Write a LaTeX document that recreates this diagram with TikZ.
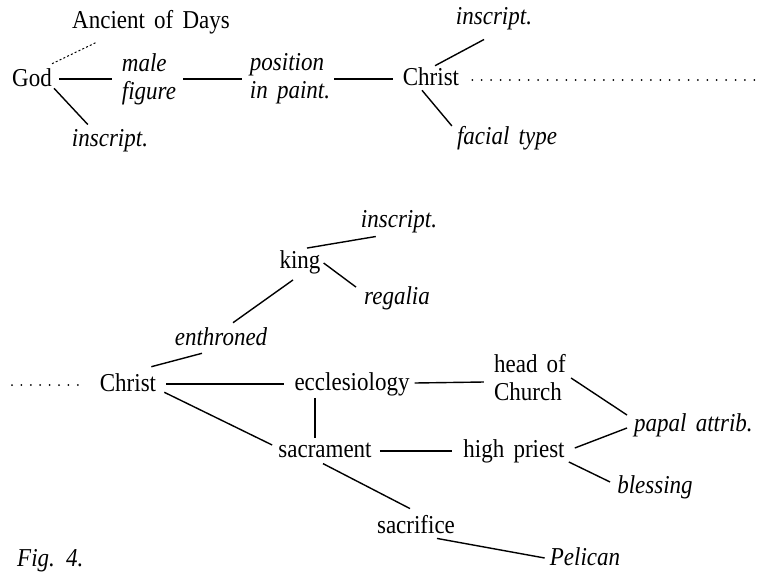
\documentclass[tikz,border=0pt]{standalone}
\usepackage{fontspec}
\setmainfont[WordSpace=1.6]{Liberation Serif}
\usetikzlibrary{calc}
\begin{document}
\begin{tikzpicture}[x=1pt,y=-1pt,
  lbl/.style={inner sep=0pt, font=\fontsize{23}{25}\selectfont, yscale=1.12},
  ilbl/.style={lbl, font=\fontsize{23}{25}\selectfont\itshape},
  two/.style={align=left},
  edge/.style={line width=1.4pt},
  fine/.style={line width=1pt, dash pattern=on 2pt off 2.2pt},
  dotrow/.style={line width=2pt, line cap=round, dash pattern=on 0pt off 9.4pt}]
\useasboundingbox (0,0) rectangle (761,574);
% ---- upper diagram
\node[lbl]  (anc)   at (151,22)  {Ancient of Days};
\node[lbl]  (god)   at (32,78)   {God};
\node[ilbl,two] (male) at (149,79) {male\\figure};
\node[ilbl,two] (pos)  at (290,79) {position\\in paint.};
\node[lbl]  (chrA)  at (431,77)  {Christ};
\node[ilbl] (inscA) at (110,141) {inscript.};
\node[ilbl] (inscB) at (494,19)  {inscript.};
\node[ilbl] (fac)   at (507,138) {facial type};
\coordinate (dotR) at (761,80);

\draw[fine] ($(god.north east)+(0,-5)$) -- ($(anc.south west)+(25,8)$);
\draw[edge] ($(god.east)+(7,1)$) -- ($(male.west)+(-10,0)$);
\draw[edge] ($(god.south east)+(2,1)$) -- ($(inscA.north west)+(16,-5)$);
\draw[edge] ($(male.east)+(7,0)$) -- ($(pos.west)+(-8,0)$);
\draw[edge] ($(pos.east)+(4,0)$) -- ($(chrA.west)+(-10,2)$);
\draw[edge] ($(chrA.north)+(4,-2)$) -- ($(inscB.south)+(-10,9)$);
\draw[edge] ($(chrA.south)+(-9,4)$) -- ($(fac.north west)+(-5,0)$);
\draw[dotrow] ($(chrA.east)+(13,3)$) -- (dotR);

% ---- lower diagram
\node[lbl]  (king)  at (300,262) {king};
\node[ilbl] (inscC) at (399,222) {inscript.};
\node[ilbl] (reg)   at (397,298) {regalia};
\node[ilbl] (enth)  at (221,337) {enthroned};
\node[lbl]  (chrB)  at (128,383) {Christ};
\node[lbl]  (eccl)  at (352,384) {ecclesiology};
\node[lbl,two] (head) at (530,378) {head of\\Church};
\node[ilbl,anchor=west] (papal) at (634,425) {papal attrib.};
\node[lbl]  (sacr)  at (325,450) {sacrament};
\node[lbl]  (hp)    at (514,451) {high priest};
\node[ilbl] (bless) at (655,487) {blessing};
\node[lbl]  (sacf)  at (416,525) {sacrifice};
\node[ilbl] (pel)   at (585,557) {Pelican};
\node[ilbl,anchor=north west] (fig) at (17,549) {Fig. 4.};
\coordinate (dotL) at (12,385);

\draw[dotrow] (dotL) -- ($(chrB.west)+(-21,2)$);
\draw[edge] ($(king.north)+(7,-2)$) -- ($(inscC.south west)+(15,3)$);
\draw[edge] ($(king.east)+(3,1)$) -- ($(reg.north west)+(-8,1)$);
\draw[edge] ($(king.south)+(-7,6)$) -- ($(enth.north)+(12,-5)$);
\draw[edge] ($(enth.south)+(-19,7)$) -- ($(chrB.north east)+(-5,-7)$);
\draw[edge] ($(chrB.east)+(10,1)$) -- ($(eccl.west)+(-10,0)$);
\draw[edge] ($(chrB.south east)+(8,0)$) -- ($(sacr.west)+(-6,-5)$);
\draw[edge] ($(eccl.south)+(-37,2)$) -- ($(sacr.north)+(-10,-4)$);
\draw[edge] ($(eccl.east)+(5,-1)$) -- ($(head.west)+(-10,4)$);
\draw[edge] ($(head.east)+(5,0)$) -- ($(papal.west)+(-7,-10)$);
\draw[edge] ($(hp.east)+(10,-3)$) -- ($(papal.west)+(-7,3)$);
\draw[edge] ($(sacr.east)+(8,1)$) -- ($(hp.west)+(-11,0)$);
\draw[edge] ($(hp.south east)+(4,-1)$) -- ($(bless.west)+(-7,-5)$);
\draw[edge] ($(sacr.south)+(-2,6)$) -- ($(sacf.north)+(-6,-7)$);
\draw[edge] ($(sacf.south)+(21,4)$) -- ($(pel.west)+(-5,1)$);
\end{tikzpicture}
\end{document}
